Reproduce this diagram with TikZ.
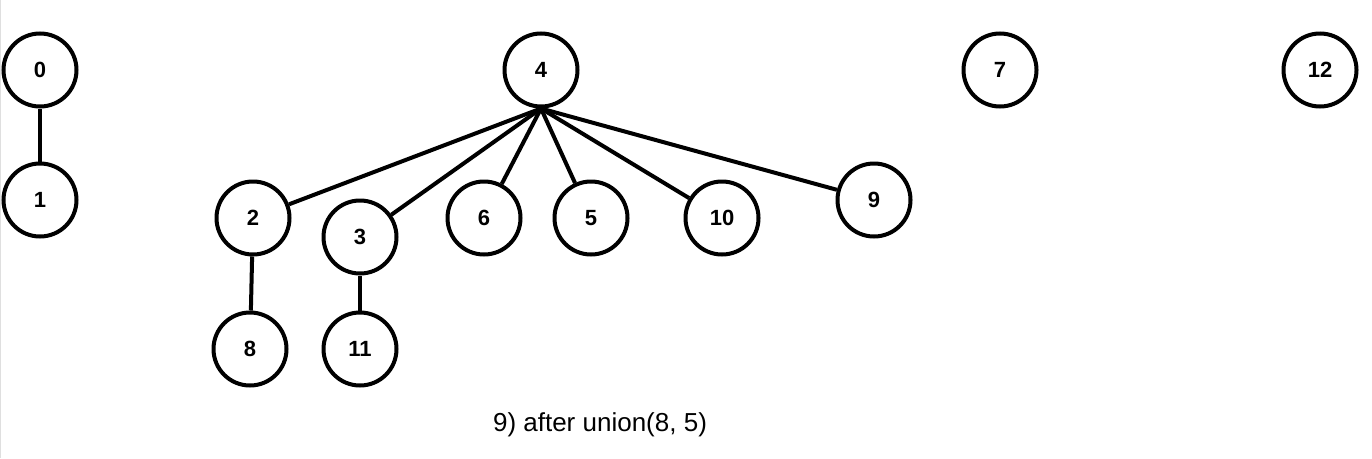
\documentclass[tikz,border=0pt]{standalone}
\usepackage{fontspec}
\setmainfont{Liberation Sans}
\usetikzlibrary{positioning}

\tikzset{
  uf/.style={circle, draw, line width=4pt, minimum size=73pt, inner sep=0pt,
             font=\fontsize{22}{24}\selectfont\bfseries},
  link/.style={line width=4pt}
}

\begin{document}
\begin{tikzpicture}[x=1pt, y=-1pt]

    % page frame
    \useasboundingbox (0,0) rectangle (1372,458);
    \draw[gray!25, line width=1pt] (0.5,0) -- (0.5,458);

    % 1. Roots
    \node[uf] (n0)  at (40,70)   {0};
    \node[uf] (n4)  at (541,70)  {4};
    \node[uf] (n7)  at (1000,70) {7};
    \node[uf] (n12) at (1320,70) {12};

    % 2. Children
    \node[uf] (n1)  at (40,200)  {1};
    \node[uf] (n2)  at (253,218) {2};
    \node[uf] (n3)  at (360,237) {3};
    \node[uf] (n6)  at (484,218) {6};
    \node[uf] (n5)  at (591,218) {5};
    \node[uf] (n10) at (722,218) {10};
    \node[uf] (n9)  at (874,200) {9};

    % 3. Grandchildren
    \node[uf] (n8)  at (250,349) {8};
    \node[uf] (n11) at (360,349) {11};

    % 4. Links
    \draw[link] (n0) -- (n1);
    \foreach \c in {n2,n3,n6,n5,n10,n9} {
        \draw[link] (n4.south) -- (\c);
    }
    \draw[link] (n2) -- (n8);
    \draw[link] (n3) -- (n11);

    % caption
    \node (cap) at (600,425) {\fontsize{26}{28}\selectfont 9) after union(8, 5)};

\end{tikzpicture}
\end{document}
